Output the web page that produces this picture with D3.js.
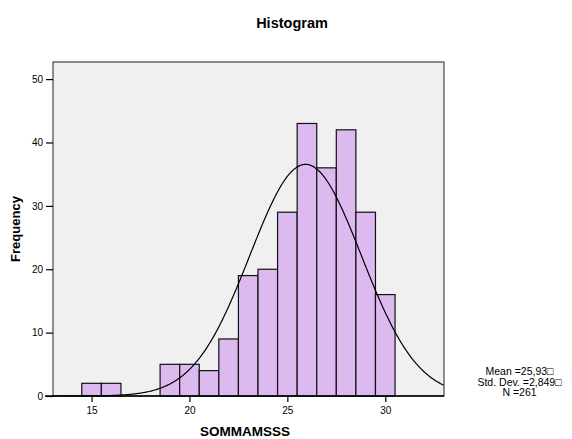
<!DOCTYPE html>
<html>
<head>
<meta charset="utf-8">
<script src="https://cdn.jsdelivr.net/npm/d3@7"></script>
<style>
  body { margin: 0; background: #fff; }
  text { font-family: "Liberation Sans", Arial, sans-serif; }
</style>
</head>
<body>
<div id="hist"></div>
<script>
/* histogram data: bin centres and counts */
var binCenters = [15, 16, 19, 20, 21, 22, 23, 24, 25, 26, 27, 28, 29, 30],
    counts     = [2, 2, 5, 5, 4, 9, 19, 20, 29, 43, 36, 42, 29, 16];

var yTicks = [0, 10, 20, 30, 40, 50],
    xTicks = [15, 20, 25, 30];

var mean = 25.93, sd = 2.849, n = 261, binWidth = 1;
var statLines = ["Mean =25,93\u25A1", "Std. Dev. =2,849\u25A1", "N =261"];

var width = 572, height = 439;
var plot = { left: 53, top: 62, right: 444, bottom: 396 };

var svg = d3.select("#hist")
            .append("svg")
            .attr("width", width)
            .attr("height", height);

var x = d3.scaleLinear().domain([13.03, 33.0]).range([plot.left, plot.right]);
var y = d3.scaleLinear().domain([0, 52.7]).range([plot.bottom, plot.top]);

/* plot background */
svg.append("rect")
    .attr("x", plot.left)
    .attr("y", plot.top)
    .attr("width", plot.right - plot.left)
    .attr("height", plot.bottom - plot.top)
    .attr("fill", "#f0f0f0")
    .attr("stroke", "#222")
    .attr("stroke-width", 1);

/* bars */
svg.append("g")
    .selectAll("rect")
    .data(binCenters)
    .enter().append("rect")
        .attr("x", function(d) { return x(d - binWidth / 2); })
        .attr("y", function(d, i) { return y(counts[i]); })
        .attr("width", function(d) { return x(d + binWidth / 2) - x(d - binWidth / 2); })
        .attr("height", function(d, i) { return y(0) - y(counts[i]); })
        .attr("fill", "#dcbaf0")
        .attr("stroke", "#111")
        .attr("stroke-width", 1.2);

/* normal curve */
var curveX = d3.range(13.03, 33.0, 0.05);
var line = d3.line()
    .x(function(d) { return x(d); })
    .y(function(d) {
        var z = (d - mean) / sd;
        return y(n * binWidth / (sd * Math.sqrt(2 * Math.PI)) * Math.exp(-0.5 * z * z));
    });

svg.append("path")
    .datum(curveX)
    .attr("d", line)
    .attr("fill", "none")
    .attr("stroke", "#000")
    .attr("stroke-width", 1.2);

/* axes */
var yAxis = d3.axisLeft(y).tickValues(yTicks).tickSize(7).tickPadding(3);
var xAxis = d3.axisBottom(x).tickValues(xTicks).tickSize(6).tickPadding(5);

var gy = svg.append("g")
    .attr("transform", "translate(" + plot.left + ",0)")
    .call(yAxis);

var gx = svg.append("g")
    .attr("transform", "translate(0," + plot.bottom + ")")
    .call(xAxis);

[gy, gx].forEach(function(g) {
    g.select(".domain").remove();
    g.selectAll("line").attr("stroke", "#000").attr("stroke-width", 1.2);
    g.selectAll("text").attr("font-size", 10).attr("fill", "#000")
        .attr("font-family", "'Liberation Sans', Arial, sans-serif");
});

/* axis base line */
svg.append("line")
    .attr("x1", plot.left - 8).attr("x2", plot.right)
    .attr("y1", plot.bottom).attr("y2", plot.bottom)
    .attr("stroke", "#000").attr("stroke-width", 1.3);

/* title and labels */
svg.append("text")
    .attr("x", 292).attr("y", 28)
    .attr("text-anchor", "middle")
    .attr("font-size", 14.5).attr("font-weight", "bold")
    .text("Histogram");

svg.append("text")
    .attr("transform", "translate(20," + ((plot.top + plot.bottom) / 2) + ")rotate(-90)")
    .attr("text-anchor", "middle")
    .attr("font-size", 13).attr("font-weight", "bold")
    .text("Frequency");

svg.append("text")
    .attr("x", 245).attr("y", 436)
    .attr("text-anchor", "middle")
    .attr("font-size", 13.5).attr("font-weight", "bold")
    .text("SOMMAMSSS");

/* summary statistics */
svg.append("g")
    .selectAll("text")
    .data(statLines)
    .enter().append("text")
        .attr("x", 519.5)
        .attr("y", function(d, i) { return 375 + i * 10.5; })
        .attr("text-anchor", "middle")
        .attr("font-size", 10.5)
        .text(function(d) { return d; });
</script>
</body>
</html>
